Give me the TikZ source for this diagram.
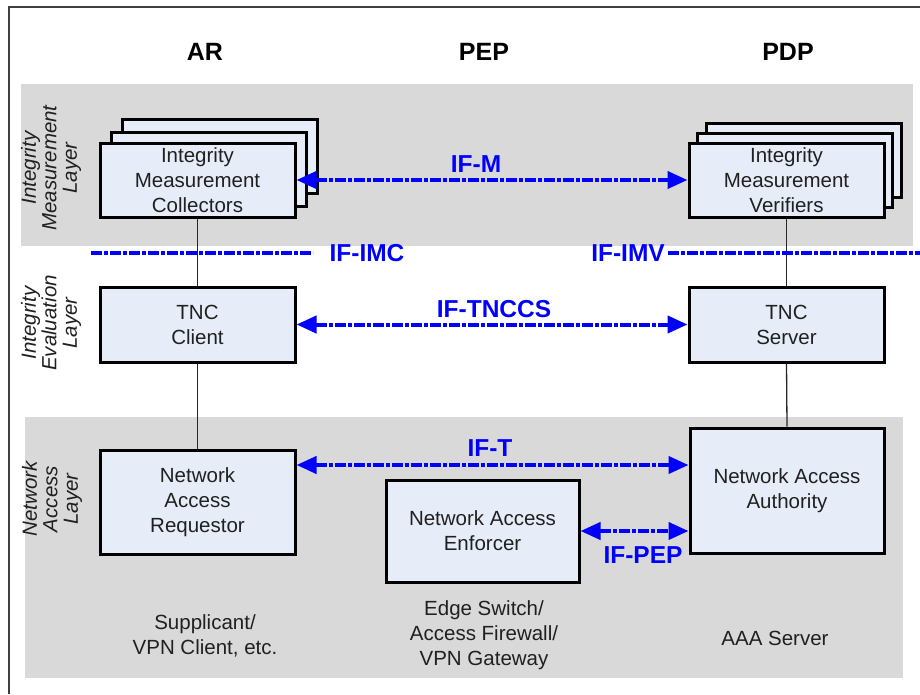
\documentclass[tikz,border=0pt]{standalone}
\usepackage{fontspec}
\setmainfont{Liberation Sans}
\usetikzlibrary{arrows.meta}

\definecolor{bandgray}{HTML}{D9D9D9}
\definecolor{boxblue}{HTML}{E7EDF8}
\definecolor{textgray}{HTML}{202020}
\definecolor{ifblue}{HTML}{0000FF}
\definecolor{framec}{HTML}{404040}

\begin{document}
\begin{tikzpicture}[x=1pt,y=-1pt,
  compbox/.style={draw=black, line width=3pt, fill=boxblue, text=textgray,
    align=center, inner sep=0pt, font=\fontsize{20.5}{25}\selectfont},
  head/.style={font=\fontsize{25}{28}\selectfont\bfseries, text=black},
  layerlbl/.style={rotate=90, align=center, text=textgray,
    font=\fontsize{20.5}{20.5}\selectfont\itshape},
  iflbl/.style={text=ifblue, font=\fontsize{24.5}{26}\selectfont\bfseries, inner sep=0pt},
  ifline/.style={ifblue, line width=4pt, dash pattern=on 11pt off 2pt on 4pt off 2pt},
  ifarrow/.style={ifline, {Triangle[length=20pt,width=17pt]}-{Triangle[length=20pt,width=17pt]}},
  link/.style={draw=black!85, line width=1.3pt},
  note/.style={align=center, text=textgray, font=\fontsize{20.5}{25}\selectfont}]
\useasboundingbox (0,0) rectangle (920,694);

% outer frame
\draw[framec, line width=2pt] (9,694) -- (9,7) -- (920,7);

% layer bands
\fill[bandgray] (21,84) rectangle (913,246);
\fill[bandgray] (25,417) rectangle (903,678);

% column headings
\node[head] (hAR)  at (205,52) {AR};
\node[head] (hPEP) at (484,52) {PEP};
\node[head] (hPDP) at (788,52) {PDP};

% layer names
\node[layerlbl] (lIM) at (51,168) {Integrity\\Measurement\\Layer};
\node[layerlbl] (lIE) at (51,323) {Integrity\\Evaluation\\Layer};
\node[layerlbl] (lNA) at (52,499) {Network\\Access\\Layer};

% stacked collector / verifier boxes
\node[compbox, minimum width=195pt, minimum height=74pt] (imcback) at (219.5,156) {};
\node[compbox, minimum width=195pt, minimum height=74pt] (imcmid)  at (208.5,169) {};
\node[compbox, minimum width=195pt, minimum height=74pt] (imc) at (197.5,180)
  {Integrity\\Measurement\\Collectors};
\node[compbox, minimum width=195pt, minimum height=74pt] (imvback) at (803.5,160) {};
\node[compbox, minimum width=195pt, minimum height=74pt] (imvmid)  at (795,170) {};
\node[compbox, minimum width=195pt, minimum height=74pt] (imv) at (786.5,180)
  {Integrity\\Measurement\\Verifiers};

% evaluation layer
\node[compbox, minimum width=195pt, minimum height=75pt] (tncc) at (197.5,324.5) {TNC\\Client};
\node[compbox, minimum width=195pt, minimum height=75pt] (tncs) at (786.5,324.5) {TNC\\Server};

% network access layer
\node[compbox, minimum width=195pt, minimum height=104pt] (nar) at (197.5,502)
  {Network\\Access\\Requestor};
\node[compbox, minimum width=193pt, minimum height=102pt] (nae) at (482.5,531)
  {Network Access\\Enforcer};
\node[compbox, minimum width=194pt, minimum height=125pt] (naa) at (787,490.5)
  {Network Access\\Authority};

% vertical links
\draw[link] (imc.south) -- (tncc.north);
\draw[link] (tncc.south) -- (nar.north);
\draw[link] (imv.south) -- (tncs.north);
\draw[link] (tncs.south) -- (naa.north);

% interface lines
\coordinate (imcL) at (91,253);
\coordinate (imcR) at (313,253);
\coordinate (imvL) at (668,253);
\coordinate (imvR) at (920,253);
\draw[ifline] (imcL) -- (imcR);
\draw[ifline] (imvL) -- (imvR);
\node[iflbl] (lblimc) at (367,253) {IF-IMC};
\node[iflbl] (lblimv) at (628,253) {IF-IMV};

\draw[ifarrow] (imc.east) -- (imv.west);
\node[iflbl] (lblm) at (476,164) {IF-M};

\draw[ifarrow] (tncc.east) -- (tncs.west);
\node[iflbl] (lbltnccs) at (494,309) {IF-TNCCS};

\coordinate (ifty) at (0,465);
\draw[ifarrow] (nar.east |- ifty) -- (naa.west |- ifty);
\node[iflbl] (lblt) at (490,448) {IF-T};

\draw[ifarrow] (nae.east) -- (naa.west |- nae.east);
\node[iflbl] (lblpep) at (643,555) {IF-PEP};

% component descriptions
\node[note] (nAR)  at (205,636) {Supplicant/\\VPN Client, etc.};
\node[note] (nPEP) at (484,635) {Edge Switch/\\Access Firewall/\\VPN Gateway};
\node[note] (nPDP) at (775,638) {AAA Server};
\end{tikzpicture}
\end{document}
